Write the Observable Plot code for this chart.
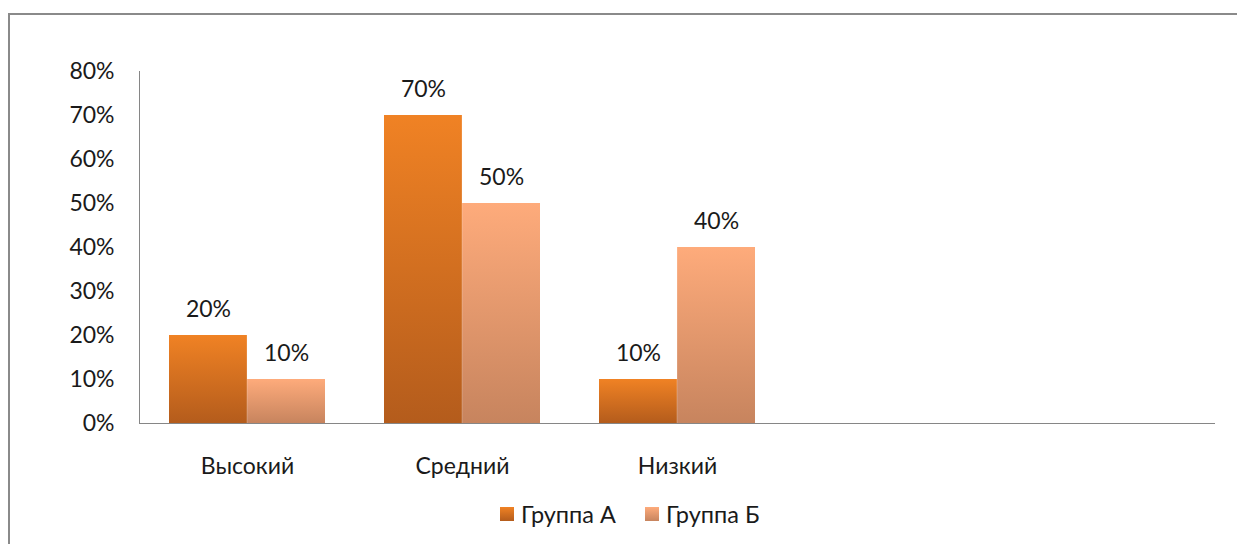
<!DOCTYPE html>
<html><head><meta charset="utf-8">
<script src="https://cdn.jsdelivr.net/npm/d3@7"></script>
<script src="https://cdn.jsdelivr.net/npm/@observablehq/plot@0.6"></script>
<style>
body{margin:0;background:#fff;overflow:hidden;width:1237px;height:544px;position:relative;font-family:Lato,"Open Sans",sans-serif;}
#frame{position:absolute;left:8px;top:13px;width:1300px;height:600px;border:2px solid #8a8a8a;box-sizing:border-box;}
#chart{position:absolute;left:0;top:0;}
#legend{position:absolute;left:500px;top:500px;display:flex;align-items:center;font-size:23.5px;line-height:28px;color:#1a1a1a;white-space:nowrap;}
#legend .sw{display:inline-block;width:14px;height:14px;margin-right:7px;}
#legend .item{display:flex;align-items:center;margin-right:29px;}
</style></head>
<body>
<div id="frame"></div>
<div id="chart"></div>
<div id="legend"></div>
<script>
const categories = ["Высокий", "Средний", "Низкий", " ", "  "];
const seriesNames = ["Группа А", "Группа Б"];
const groupA = [0.20, 0.70, 0.10];
const groupB = [0.10, 0.50, 0.40];
const yTicks = [0, 0.1, 0.2, 0.3, 0.4, 0.5, 0.6, 0.7, 0.8];

const gradients = [
  {id: "gA", top: "#F08224", bottom: "#B45C1C"},
  {id: "gB", top: "#FEAB7B", bottom: "#C7845E"}
];

const rowsA = groupA.map((v, i) => ({cat: categories[i], value: v, series: seriesNames[0]}));
const rowsB = groupB.map((v, i) => ({cat: categories[i], value: v, series: seriesNames[1]}));

const W = 1237, H = 490;
const mL = 139, mR = 22, mT = 71, mB = 67;
const padInner = 0.274;
const step = (W - mL - mR) / categories.length;
const bw = step * (1 - padInner);
const half = bw / 2;

function defsMark() {
  const ns = "http://www.w3.org/2000/svg";
  const g = document.createElementNS(ns, "g");
  const defs = document.createElementNS(ns, "defs");
  for (const gr of gradients) {
    const lg = document.createElementNS(ns, "linearGradient");
    lg.setAttribute("id", gr.id);
    lg.setAttribute("x1", "0"); lg.setAttribute("y1", "0");
    lg.setAttribute("x2", "0"); lg.setAttribute("y2", "1");
    const s1 = document.createElementNS(ns, "stop");
    s1.setAttribute("offset", "0"); s1.setAttribute("stop-color", gr.top);
    const s2 = document.createElementNS(ns, "stop");
    s2.setAttribute("offset", "1"); s2.setAttribute("stop-color", gr.bottom);
    lg.append(s1, s2);
    defs.append(lg);
  }
  g.append(defs);
  return g;
}

const fmt = d3.format(".0%");

const chart = Plot.plot({
  width: W, height: H,
  marginLeft: mL, marginRight: mR, marginTop: mT, marginBottom: mB,
  style: {fontFamily: "Lato, 'Open Sans', sans-serif", fontSize: "23px", color: "#1a1a1a", background: "transparent"},
  x: {domain: categories, paddingInner: padInner, paddingOuter: padInner / 2, label: null},
  y: {domain: [0, 0.8], label: null},
  marks: [
    defsMark,
    Plot.barY(rowsA, {x: "cat", y: "value", fill: "url(#gA)", insetRight: half,
      style: {filter: "drop-shadow(1px 1px 1px rgba(0,0,0,0.18))"}}),
    Plot.barY(rowsB, {x: "cat", y: "value", fill: "url(#gB)", insetLeft: half,
      style: {filter: "drop-shadow(1px 1px 1px rgba(0,0,0,0.18))"}}),
    Plot.text(rowsA, {x: "cat", y: "value", text: d => fmt(d.value), dx: -half / 2, dy: -26, fill: "#1a1a1a"}),
    Plot.text(rowsB, {x: "cat", y: "value", text: d => fmt(d.value), dx: half / 2, dy: -26, fill: "#1a1a1a"}),
    Plot.axisY({ticks: yTicks, tickFormat: fmt, tickSize: 0, tickPadding: 25, label: null}),
    Plot.axisX({tickSize: 0, tickPadding: 34, label: null}),
    Plot.frame({anchor: "left", stroke: "#868686"}),
    Plot.ruleY([0], {stroke: "#868686", strokeWidth: 1.2})
  ]
});
document.getElementById("chart").append(chart);

const legend = document.getElementById("legend");
seriesNames.forEach((name, i) => {
  const item = document.createElement("span");
  item.className = "item";
  const sw = document.createElement("span");
  sw.className = "sw";
  sw.style.background = `linear-gradient(${gradients[i].top}, ${gradients[i].bottom})`;
  item.append(sw, document.createTextNode(name));
  legend.append(item);
});
</script>
</body></html>
